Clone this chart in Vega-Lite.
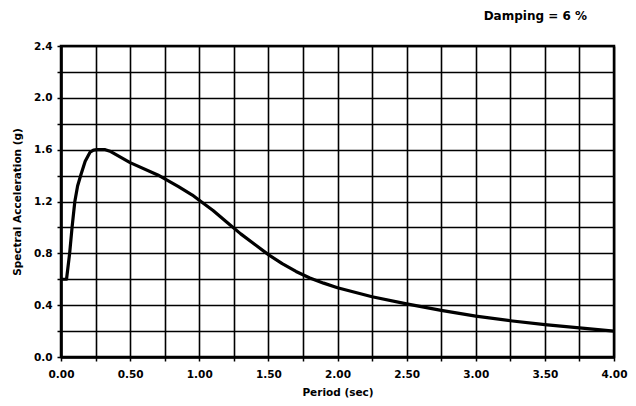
{
  "$schema": "https://vega.github.io/schema/vega-lite/v6.json",
  "autosize": "none",
  "width": 553,
  "height": 311,
  "padding": {"left": 61, "top": 46, "right": 22, "bottom": 49},
  "background": "white",
  "title": {
    "text": "Damping = 6 %",
    "anchor": "end",
    "frame": "group",
    "dx": -27,
    "offset": 18,
    "font": "DejaVu Sans",
    "fontSize": 12,
    "fontWeight": "bold",
    "color": "black"
  },
  "config": {
    "view": {"stroke": "black", "strokeWidth": 2.5},
    "axis": {
      "grid": true,
      "gridColor": "black",
      "gridWidth": 1.6,
      "gridOpacity": 1,
      "domain": true,
      "domainColor": "black",
      "domainWidth": 2.5,
      "tickColor": "black",
      "tickWidth": 1.5,
      "tickSize": 4,
      "labelFlush": false,
      "labelFont": "DejaVu Sans",
      "labelFontWeight": "bold",
      "labelFontSize": 10.5,
      "labelColor": "black",
      "titleFont": "DejaVu Sans",
      "titleFontWeight": "bold",
      "titleFontSize": 10.5,
      "titleColor": "black"
    }
  },
  "data": {
    "values": [
      {"period": 0.0, "sa": 0.6},
      {"period": 0.04, "sa": 0.6},
      {"period": 0.0625, "sa": 0.8},
      {"period": 0.08, "sa": 1.0},
      {"period": 0.1, "sa": 1.2},
      {"period": 0.12, "sa": 1.32},
      {"period": 0.145, "sa": 1.41},
      {"period": 0.175, "sa": 1.51},
      {"period": 0.21, "sa": 1.58},
      {"period": 0.235, "sa": 1.597},
      {"period": 0.26, "sa": 1.6},
      {"period": 0.32, "sa": 1.6},
      {"period": 0.36, "sa": 1.585},
      {"period": 0.5, "sa": 1.5},
      {"period": 0.7, "sa": 1.405},
      {"period": 0.85, "sa": 1.315},
      {"period": 0.95, "sa": 1.25},
      {"period": 1.0, "sa": 1.21},
      {"period": 1.1, "sa": 1.13},
      {"period": 1.2, "sa": 1.04},
      {"period": 1.3, "sa": 0.95},
      {"period": 1.4, "sa": 0.87},
      {"period": 1.5, "sa": 0.79},
      {"period": 1.6, "sa": 0.72},
      {"period": 1.7, "sa": 0.66},
      {"period": 1.8, "sa": 0.61},
      {"period": 1.9, "sa": 0.57},
      {"period": 2.0, "sa": 0.535},
      {"period": 2.25, "sa": 0.465},
      {"period": 2.5, "sa": 0.41},
      {"period": 2.75, "sa": 0.36},
      {"period": 3.0, "sa": 0.315},
      {"period": 3.25, "sa": 0.28},
      {"period": 3.5, "sa": 0.25},
      {"period": 3.75, "sa": 0.225},
      {"period": 4.0, "sa": 0.2}
    ]
  },
  "mark": {"type": "line", "color": "black", "strokeWidth": 3.2, "interpolate": "linear", "strokeJoin": "round", "clip": true},
  "encoding": {
    "x": {
      "field": "period",
      "type": "quantitative",
      "scale": {"domain": [0, 4], "nice": false, "zero": true},
      "axis": {
        "title": "Period (sec)",
        "values": [0, 0.25, 0.5, 0.75, 1, 1.25, 1.5, 1.75, 2, 2.25, 2.5, 2.75, 3, 3.25, 3.5, 3.75, 4],
        "labelExpr": "datum.value % 0.5 == 0 ? format(datum.value, '.2f') : ''",
        "labelPadding": 8,
        "titlePadding": 8
      }
    },
    "y": {
      "field": "sa",
      "type": "quantitative",
      "scale": {"domain": [0, 2.4], "nice": false},
      "axis": {
        "title": "Spectral Acceleration (g)",
        "values": [0, 0.2, 0.4, 0.6, 0.8, 1.0, 1.2, 1.4, 1.6, 1.8, 2.0, 2.2, 2.4],
        "labelExpr": "round(datum.value * 10) % 4 == 0 ? format(datum.value, '.1f') : ''",
        "labelPadding": 5,
        "titlePadding": 11
      }
    }
  }
}
